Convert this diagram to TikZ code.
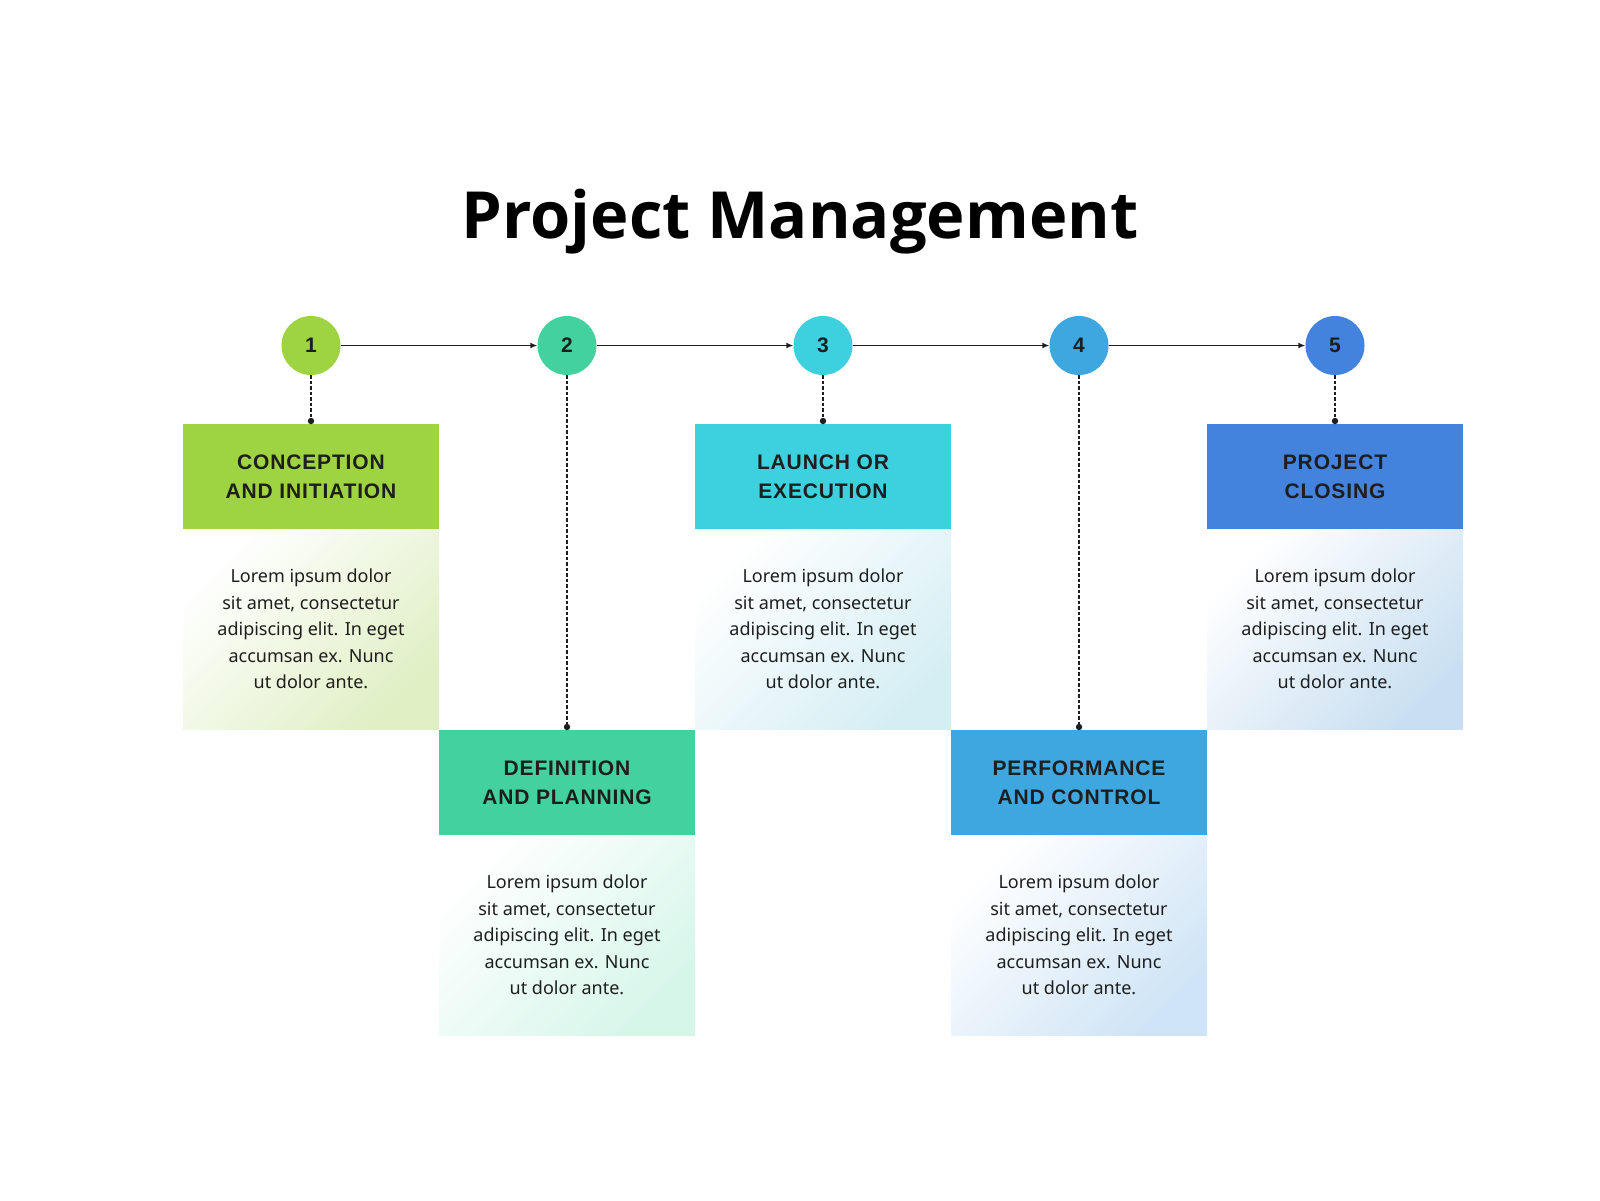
\documentclass[tikz,border=0pt]{standalone}
\usepackage{fontspec}
\setmainfont{Noto Sans}
\newfontfamily\titlefont{Open Sans}
\newfontfamily\headfont[LetterSpace=4]{Liberation Sans}
\newfontfamily\numfont{Liberation Sans}
\usetikzlibrary{arrows.meta}
\definecolor{cA}{HTML}{9ED442}
\definecolor{cB}{HTML}{44D1A0}
\definecolor{cC}{HTML}{3DD1E0}
\definecolor{cD}{HTML}{3FA7E0}
\definecolor{cE}{HTML}{4383DE}
\definecolor{tA}{HTML}{E0EFC4}
\definecolor{tB}{HTML}{D6F6EA}
\definecolor{tC}{HTML}{D5EEF4}
\definecolor{tD}{HTML}{CFE4F6}
\definecolor{tE}{HTML}{C9DFF1}
\definecolor{ink}{HTML}{1E1E1E}
\begin{document}
\begin{tikzpicture}[x=1pt,y=-1pt,
  hdr/.style={rectangle, minimum width=256pt, minimum height=105pt, inner sep=0pt, align=center,
    font=\headfont\bfseries\fontsize{21}{29}\selectfont, text=ink},
  bdy/.style={rectangle, minimum width=256pt, minimum height=200pt, inner sep=0pt, align=center,
    font=\fontsize{18}{26.5}\selectfont, text=ink},
  tint/.style={top color=white, bottom color=#1, shading angle=45},
  num/.style={circle, minimum size=59pt, inner sep=0pt, font=\numfont\bfseries\fontsize{21}{24}\selectfont, text=ink},
  arr/.style={draw=ink, line width=1.4pt, -{Latex[length=7pt,width=6pt]}},
  dashline/.style={draw=ink, line width=1.4pt, dash pattern=on 3.5pt off 2pt},
  dotmark/.style={fill=ink}
]
\useasboundingbox (0,0) rectangle (1600,1200);
\fill[white] (0,0) rectangle (1600,1200);

\node[anchor=base, font=\titlefont\bfseries\fontsize{65}{80}\selectfont, text=black] (title) at (800,238) {Project Management};

% circles
\node[num, fill=cA] (c1) at (311,345.5) {1};
\node[num, fill=cB] (c2) at (567,345.5) {2};
\node[num, fill=cC] (c3) at (823,345.5) {3};
\node[num, fill=cD] (c4) at (1079,345.5) {4};
\node[num, fill=cE] (c5) at (1335,345.5) {5};

% bodies
\node[bdy, tint=tA] (b1) at (311,629) {Lorem ipsum dolor\\sit amet, consectetur\\adipiscing elit. In eget\\accumsan ex. Nunc\\ut dolor ante.};
\node[bdy, tint=tB] (b2) at (567,935) {Lorem ipsum dolor\\sit amet, consectetur\\adipiscing elit. In eget\\accumsan ex. Nunc\\ut dolor ante.};
\node[bdy, tint=tC] (b3) at (823,629) {Lorem ipsum dolor\\sit amet, consectetur\\adipiscing elit. In eget\\accumsan ex. Nunc\\ut dolor ante.};
\node[bdy, tint=tD] (b4) at (1079,935) {Lorem ipsum dolor\\sit amet, consectetur\\adipiscing elit. In eget\\accumsan ex. Nunc\\ut dolor ante.};
\node[bdy, tint=tE] (b5) at (1335,629) {Lorem ipsum dolor\\sit amet, consectetur\\adipiscing elit. In eget\\accumsan ex. Nunc\\ut dolor ante.};

% headers
\node[hdr, fill=cA] (h1) at (311,476.5) {CONCEPTION\\AND INITIATION};
\node[hdr, fill=cB] (h2) at (567,782.5) {DEFINITION\\AND PLANNING};
\node[hdr, fill=cC] (h3) at (823,476.5) {LAUNCH OR\\EXECUTION};
\node[hdr, fill=cD] (h4) at (1079,782.5) {PERFORMANCE\\AND CONTROL};
\node[hdr, fill=cE] (h5) at (1335,476.5) {PROJECT\\CLOSING};

% dots
\coordinate (d1) at (311,421);
\coordinate (d2) at (567,727);
\coordinate (d3) at (823,421);
\coordinate (d4) at (1079,727);
\coordinate (d5) at (1335,421);

% arrows
\draw[arr] (c1.east) -- (c2.west);
\draw[arr] (c2.east) -- (c3.west);
\draw[arr] (c3.east) -- (c4.west);
\draw[arr] (c4.east) -- (c5.west);

% dashed connectors
\draw[dashline] (c1.south) -- (d1);
\draw[dashline] (c2.south) -- (d2);
\draw[dashline] (c3.south) -- (d3);
\draw[dashline] (c4.south) -- (d4);
\draw[dashline] (c5.south) -- (d5);
\fill[dotmark] (d1) circle (3.2pt);
\fill[dotmark] (d2) circle (3.2pt);
\fill[dotmark] (d3) circle (3.2pt);
\fill[dotmark] (d4) circle (3.2pt);
\fill[dotmark] (d5) circle (3.2pt);
\end{tikzpicture}
\end{document}
